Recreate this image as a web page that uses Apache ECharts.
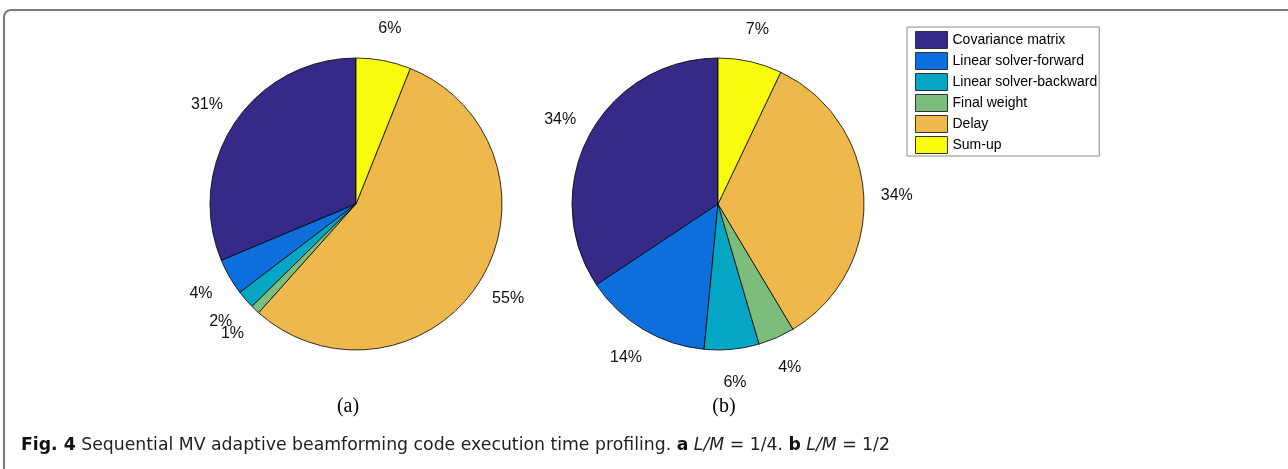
<!DOCTYPE html>
<html>
<head>
<meta charset="utf-8">
<script src="https://cdn.jsdelivr.net/npm/echarts@6/dist/echarts.min.js"></script>
<style>
  html, body { margin: 0; padding: 0; background: #fff; }
  #chart { width: 1288px; height: 469px; }
</style>
</head>
<body>
<div id="chart"></div>
<script>
// Profiling categories (legend order) and their colours (parula)
const categories = ['Covariance matrix', 'Linear solver-forward', 'Linear solver-backward', 'Final weight', 'Delay', 'Sum-up'];
const colors = ['#352a87', '#0d6fdc', '#05a6c4', '#7dbd7b', '#efb84c', '#f9fb0e'];

// Share of execution time (%) per category
const shareQuarter = [31, 4, 2, 1, 55, 6]; // (a) L/M = 1/4
const shareHalf = [34, 14, 6, 4, 34, 7];   // (b) L/M = 1/2

const panelLabels = ['(a)', '(b)'];

const chart = echarts.init(document.getElementById('chart'), null, { renderer: 'canvas' });

const R = 146;
const pies = [
  { values: shareQuarter, center: [356, 204] },
  { values: shareHalf, center: [718, 204] }
];

function toData(values) {
  return values.map((v, i) => ({ name: categories[i], value: v, itemStyle: { color: colors[i] } }));
}

const series = [];
pies.forEach((p, k) => {
  // filled slices
  series.push({
    type: 'pie',
    name: 'pie' + k,
    center: p.center,
    radius: [0, R],
    startAngle: 90,
    clockwise: false,
    silent: true,
    animation: false,
    label: { show: false },
    labelLine: { show: false },
    itemStyle: { borderColor: '#000', borderWidth: 0.8 },
    data: toData(p.values)
  });
  // transparent ring that carries the percentage labels just outside the pie
  series.push({
    type: 'pie',
    name: 'labels' + k,
    center: p.center,
    radius: [R, 206],
    startAngle: 90,
    clockwise: false,
    silent: true,
    animation: false,
    avoidLabelOverlap: false,
    legendHoverLink: false,
    itemStyle: { color: 'rgba(0,0,0,0)', borderWidth: 0 },
    label: {
      show: true,
      position: 'inside',
      formatter: '{c}%',
      color: '#111',
      fontSize: 16,
      fontFamily: 'Liberation Sans, Arial, sans-serif'
    },
    labelLayout: { hideOverlap: false },
    labelLine: { show: false },
    data: p.values.map((v, i) => ({ name: categories[i], value: v }))
  });
});

const capFont = 'DejaVu Sans, sans-serif';
const capSize = 17.3;
const option = {
  backgroundColor: '#fff',
  animation: false,
  legend: {
    data: categories,
    orient: 'vertical',
    left: 907,
    top: 27,
    padding: [4, 2, 2, 8],
    itemWidth: 32,
    itemHeight: 17,
    itemGap: 3,
    icon: 'rect',
    selectedMode: false,
    backgroundColor: '#fff',
    borderColor: '#8a8a8a',
    borderWidth: 1,
    itemStyle: { borderColor: '#333', borderWidth: 1 },
    textStyle: { color: '#000', fontSize: 14, lineHeight: 16, fontFamily: 'Liberation Sans, Arial, sans-serif' }
  },
  title: {
    left: 21,
    top: 436,
    padding: 0,
    text: '{b|Fig. 4} {n|Sequential MV adaptive beamforming code execution time profiling.} {b|a} {i|L/M} {n|= 1/4.} {b|b} {i|L/M} {n|= 1/2}',
    textStyle: {
      fontSize: capSize,
      fontWeight: 'normal',
      lineHeight: 20,
      color: '#222',
      fontFamily: capFont,
      rich: {
        b: { fontWeight: 'bold', fontSize: capSize, lineHeight: 20, color: '#111', fontFamily: capFont },
        n: { fontWeight: 'normal', fontSize: capSize, lineHeight: 20, color: '#222', fontFamily: capFont },
        i: { fontWeight: 'normal', fontStyle: 'italic', fontSize: capSize, lineHeight: 20, color: '#222', fontFamily: capFont }
      }
    }
  },
  graphic: [
    {
      type: 'rect',
      silent: true,
      shape: { x: 4, y: 10, width: 1400, height: 600, r: 7 },
      style: { fill: 'none', stroke: '#7a7a7a', lineWidth: 2 }
    },
    {
      type: 'text',
      x: 348, y: 407,
      style: { text: panelLabels[0], align: 'center', verticalAlign: 'middle', font: '20px "Liberation Serif", serif', fill: '#000' }
    },
    {
      type: 'text',
      x: 724, y: 407,
      style: { text: panelLabels[1], align: 'center', verticalAlign: 'middle', font: '20px "Liberation Serif", serif', fill: '#000' }
    }
  ],
  series: series
};

chart.setOption(option);
</script>
</body>
</html>
